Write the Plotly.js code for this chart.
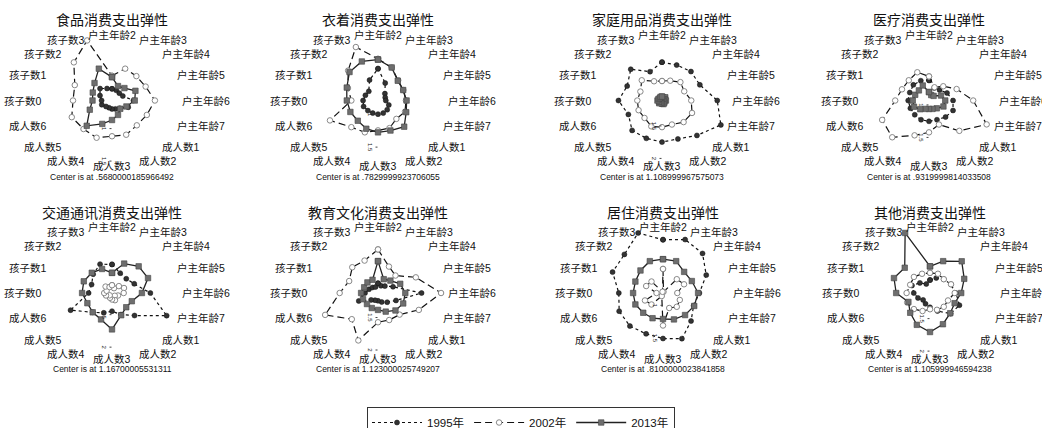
<!DOCTYPE html>
<html><head><meta charset="utf-8">
<script src="https://cdn.plot.ly/plotly-3.0.1.min.js"></script>
<style>html,body{margin:0;padding:0;background:#fff}#chart{width:1042px;height:428px}</style>
</head><body><div id="chart"></div>
<script>
const spokes = ["户主年龄2","户主年龄3","户主年龄4","户主年龄5","户主年龄6","户主年龄7","成人数1","成人数2","成人数3","成人数4","成人数5","成人数6","孩子数0","孩子数1","孩子数2","孩子数3"];
const panelTitles = ["食品消费支出弹性","衣着消费支出弹性","家庭用品消费支出弹性","医疗消费支出弹性","交通通讯消费支出弹性","教育文化消费支出弹性","居住消费支出弹性","其他消费支出弹性"];
const centerValues = [0.568, 0.783, 1.109, 0.932, 1.167, 1.123, 0.810, 1.106];
const centerLabels = [".5680000185966492",".7829999923706055","1.108999967575073",".9319999814033508","1.16700005531311","1.123000025749207",".8100000023841858","1.105999946594238"];
const seriesNames = ["1995年","2002年","2013年"];

const food1995 = [0.748,0.738,0.728,0.748,0.898,0.838,0.738,0.708,0.698,0.688,0.698,0.738,0.728,0.768,0.828,0.768];
const food2002 = [0.948,1.098,1.098,1.128,1.228,1.148,1.108,1.138,1.118,1.188,1.188,1.238,1.168,1.188,1.398,1.568];
const food2013 = [0.928,0.808,0.838,0.958,0.918,0.808,0.748,0.808,0.868,0.958,1.118,0.938,0.868,0.888,0.948,1.098];

const cloth1995 = [1.273,1.073,0.933,0.903,0.903,0.963,0.983,0.993,0.993,0.993,1.003,1.023,1.013,0.993,0.983,1.123];
const cloth2002 = [1.423,1.333,1.223,1.203,1.213,1.233,1.183,1.243,1.243,1.313,1.363,1.583,1.193,1.283,1.433,1.673];
const cloth2013 = [1.413,1.333,1.213,1.203,1.223,1.253,1.353,1.283,1.273,1.253,1.223,1.243,1.263,1.303,1.403,1.433];

const house1995 = [1.699,1.699,1.739,1.739,1.959,2.089,1.869,1.749,1.749,1.739,1.759,1.669,1.779,1.689,1.789,1.589];
const house2002 = [1.409,1.439,1.509,1.479,1.559,1.609,1.579,1.509,1.519,1.539,1.489,1.499,1.489,1.469,1.549,1.429];
const house2013 = [1.169,1.159,1.179,1.159,1.169,1.149,1.159,1.169,1.159,1.149,1.169,1.159,1.179,1.169,1.159,1.169];

const med1995 = [1.242,1.142,1.162,1.232,1.302,1.332,1.292,1.252,1.252,1.252,1.242,1.242,1.252,1.252,1.272,1.262];
const med2002 = [1.302,1.152,1.242,1.392,1.612,1.892,1.592,1.332,1.422,1.512,1.732,1.712,1.452,1.382,1.372,1.402];
const med2013 = [1.062,1.022,1.032,1.132,1.182,1.172,1.102,1.072,1.062,1.072,1.122,1.182,1.182,1.162,1.152,1.182];

const trans1995 = [1.607,1.497,1.477,1.537,1.757,2.077,1.657,1.527,1.447,1.497,1.587,1.857,1.527,1.507,1.577,1.647];
const trans2002 = [1.287,1.247,1.317,1.367,1.347,1.267,1.227,1.287,1.267,1.247,1.217,1.267,1.287,1.257,1.307,1.267];
const trans2013 = [1.477,1.657,1.747,1.767,1.627,1.497,1.477,1.537,1.727,1.607,1.587,1.577,1.627,1.637,1.607,1.567];

const edu1995 = [1.273,1.243,1.273,1.373,1.793,1.423,1.323,1.273,1.243,1.243,1.273,1.443,1.323,1.273,1.243,1.223];
const edu2002 = [1.793,1.563,1.503,1.753,2.093,1.803,1.593,1.573,1.573,1.913,1.693,2.003,1.713,1.603,1.683,1.663];
const edu2013 = [1.613,1.353,1.393,1.493,1.543,1.543,1.503,1.433,1.383,1.373,1.363,1.373,1.383,1.353,1.353,1.343];

const live1995 = [1.630,1.700,1.670,1.530,1.370,1.320,1.420,1.570,1.510,1.490,1.530,1.540,1.490,1.650,1.650,1.810];
const live2002 = [1.180,0.830,1.110,1.160,1.030,1.090,1.110,1.060,1.310,0.860,1.060,1.110,0.910,1.090,1.060,0.830];
const live2013 = [1.330,1.340,1.270,1.290,1.350,1.330,1.290,1.250,1.210,1.230,1.240,1.270,1.270,1.270,1.300,1.340];

const other1995 = [1.306,1.356,1.406,1.456,1.506,1.596,1.556,1.406,1.326,1.286,1.256,1.306,1.356,1.406,1.326,1.256];
const other2002 = [1.416,1.426,1.406,1.456,1.486,1.406,1.406,1.386,1.356,1.406,1.456,1.486,1.466,1.436,1.456,1.426];
const other2013 = [1.516,1.636,1.796,1.676,1.586,1.516,1.546,1.626,1.706,1.636,1.536,1.466,1.626,1.706,1.656,2.106];

const panelSeries = [
  [food1995, food2002, food2013],
  [cloth1995, cloth2002, cloth2013],
  [house1995, house2002, house2013],
  [med1995, med2002, med2013],
  [trans1995, trans2002, trans2013],
  [edu1995, edu2002, edu2013],
  [live1995, live2002, live2013],
  [other1995, other2002, other2013]
];

// ---- layout geometry (pixels) ----
const W = 1042, H = 428, R = 65;
const labelRx = 69, labelRy = 66;
const centersPx = [[112,100.5],[378,100.5],[662,100.5],[929,100.5],[112,293],[378,293],[663,293],[930,293]];
const titleY = [19, 19, 19, 19, 211.5, 211.5, 211.5, 211.5];
const noteY = [177.5, 177.5, 177.5, 177.5, 368.5, 368.5, 368.5, 368.5];

const cjk = '"Noto Sans CJK SC", "Noto Sans", sans-serif';
const mixed = '"Liberation Sans", "Noto Sans CJK SC", sans-serif';
const styles = [
  {line:{color:'#111', width:1.2, dash:'dot'}, marker:{symbol:'circle', size:5, color:'#333', line:{color:'#111', width:0.5}}},
  {line:{color:'#111', width:1.2, dash:'7px,4px'}, marker:{symbol:'circle', size:5.5, color:'#fff', line:{color:'#888', width:1}}},
  {line:{color:'#222', width:1.3}, marker:{symbol:'square', size:5.5, color:'#6e6e6e', line:{color:'#444', width:0.6}}}
];

const traces = [];
const layout = {
  width: W, height: H, margin:{l:0,r:0,t:0,b:0, autoexpand:false},
  paper_bgcolor:'#fff', plot_bgcolor:'#fff',
  font:{family:mixed, color:'#111'},
  showlegend:true,
  legend:{orientation:'h', x:0.5, xanchor:'center', y:1-407/H, yanchor:'top',
          bordercolor:'#333', borderwidth:1, bgcolor:'#fff',
          font:{family:mixed, size:11.5, color:'#111'}, itemwidth:50, tracegroupgap:0},
  annotations:[]
};

panelSeries.forEach((ser, i) => {
  const sub = i === 0 ? 'polar' : 'polar' + (i+1);
  const [cx, cy] = centersPx[i];
  ser.forEach((vals, s) => {
    traces.push(Object.assign({
      type:'scatterpolar', subplot:sub, mode:'lines+markers',
      name: seriesNames[s], showlegend: i === 0, legendgroup: seriesNames[s],
      theta: spokes.concat([spokes[0]]),
      r: vals.concat([vals[0]]),
      hoverinfo:'skip', cliponaxis:false
    }, JSON.parse(JSON.stringify(styles[s]))));
  });
  layout[sub] = {
    domain:{x:[(cx-R)/W,(cx+R)/W], y:[1-(cy+R)/H, 1-(cy-R)/H]},
    bgcolor:'rgba(0,0,0,0)',
    angularaxis:{type:'category', categoryorder:'array', categoryarray:spokes,
      direction:'clockwise', rotation:90, showgrid:false, showline:false, ticks:'',
      showticklabels:false},
    radialaxis:{range:[centerValues[i], centerValues[i]+1], angle:-90, showgrid:false, showline:false,
      showticklabels:true, dtick:0.5, tickangle:0, ticks:'outside', ticklen:2, tickcolor:'#444',
      tickfont:{family:'"Liberation Sans", Arial, sans-serif', size:6, color:'#222'}}
  };
  // spoke labels placed around the radar, at the end of each spoke
  spokes.forEach((name, k) => {
    const ang = (90 - k * 360 / spokes.length) * Math.PI / 180;
    const c = Math.cos(ang), s = Math.sin(ang);
    const lx = cx + labelRx * c, ly = cy - labelRy * s;
    layout.annotations.push({xref:'paper', yref:'paper', x:lx/W, y:1-ly/H,
      xanchor: c > 0.1 ? 'left' : (c < -0.1 ? 'right' : 'center'), yanchor:'middle',
      text:name, showarrow:false, borderpad:0,
      font:{family:mixed, size:10.5, color:'#111'}});
  });
  layout.annotations.push({xref:'paper', yref:'paper', x:cx/W, y:1-titleY[i]/H, xanchor:'center', yanchor:'middle',
    text:panelTitles[i], showarrow:false, font:{family:cjk, size:14, color:'#111'}});
  layout.annotations.push({xref:'paper', yref:'paper', x:cx/W, y:1-noteY[i]/H, xanchor:'center', yanchor:'middle',
    text:'Center is at ' + centerLabels[i], showarrow:false, font:{family:'"Liberation Sans", Arial, sans-serif', size:8.5, color:'#111'}});
});

Plotly.newPlot('chart', traces, layout, {displayModeBar:false, staticPlot:true});
</script>
</body></html>
